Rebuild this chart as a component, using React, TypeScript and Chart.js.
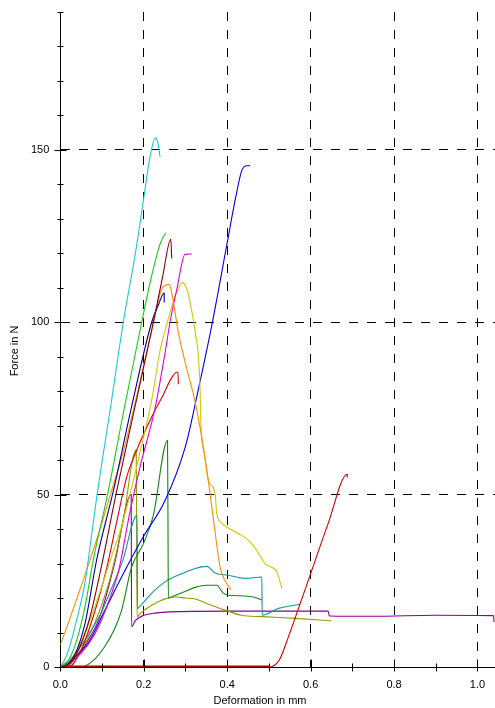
import React, { useEffect, useRef } from "react";
import { Chart, registerables } from "chart.js";

Chart.register(...registerables);

// ---- Data (deformation in mm / force in N) ----
const baselineRedX = [0, 0.5, 0.511, 0.525, 0.547, 0.575, 0.603, 0.642, 0.688, 0.688];
const baselineRedY = [0, 0, 0.3, 2, 8.8, 18.4, 28.1, 41.6, 55.9, 55];

const cyanX = [0, 0.01, 0.02, 0.04, 0.06, 0.067, 0.087, 0.12, 0.151, 0.18, 0.2, 0.215, 0.228, 0.234, 0.239];
const cyanY = [0, 2, 5, 14, 25, 31, 49, 75, 100, 120, 136, 148, 153.5, 152, 148];

const greenX = [0, 0.02, 0.04, 0.06, 0.079, 0.115, 0.15, 0.195, 0.22, 0.24, 0.253];
const greenY = [0, 2, 8, 18, 31, 51, 73, 100, 114, 123, 126];

const navyX = [0, 0.02, 0.04, 0.06, 0.087, 0.127, 0.17, 0.219, 0.235, 0.249, 0.249];
const navyY = [0, 1, 5, 13, 31, 51, 75, 100, 105, 108.5, 105.7];

const maroonX = [0, 0.02, 0.04, 0.07, 0.1, 0.135, 0.18, 0.223, 0.245, 0.265, 0.267];
const maroonY = [0, 0.5, 4, 14, 30, 51, 76, 100, 113, 124.1, 118.5];

const orangeX = [0, 0.02, 0.04, 0.06, 0.09, 0.12, 0.15, 0.18, 0.219, 0.245, 0.261, 0.268, 0.283, 0.3, 0.323, 0.34, 0.355, 0.37, 0.383, 0.395, 0.409];
const orangeY = [6.4, 13, 20, 27, 38, 50, 62, 77, 97.5, 110, 111, 108, 97, 88, 77, 66, 54, 40, 29, 25, 22.5];

const magentaX = [0, 0.02, 0.05, 0.08, 0.1, 0.119, 0.14, 0.167, 0.191, 0.227, 0.251, 0.263, 0.28, 0.299, 0.315];
const magentaY = [0, 1, 4, 9, 14, 20, 28, 45, 58, 75, 91, 100, 110, 119.7, 119.8];

const yellowX = [0, 0.03, 0.06, 0.09, 0.12, 0.145, 0.167, 0.2, 0.22, 0.239, 0.251, 0.271, 0.293, 0.305, 0.315, 0.323, 0.335, 0.337, 0.345, 0.355, 0.371, 0.375, 0.385, 0.399, 0.427, 0.451, 0.47, 0.491, 0.519, 0.523, 0.531];
const yellowY = [0, 3, 10, 20, 31, 40, 50, 67, 78, 91.8, 97.5, 106, 111.5, 109, 103.3, 97.5, 81, 70, 62, 54, 50.3, 44.5, 42, 40.6, 38.7, 36.8, 34, 30, 27.6, 26.2, 22.8];

const redX = [0, 0.02, 0.05, 0.08, 0.11, 0.135, 0.159, 0.18, 0.207, 0.227, 0.247, 0.265, 0.279, 0.282, 0.283];
const redY = [0, 0, 5, 15, 28, 42, 55, 62, 69.5, 74.5, 79, 83.5, 85.5, 85.5, 82];

const blueX = [0, 0.03, 0.067, 0.107, 0.155, 0.2, 0.25, 0.3, 0.33, 0.363, 0.4, 0.42, 0.435, 0.447, 0.455];
const blueY = [0, 2.5, 7, 16.5, 28, 38, 48, 64, 80, 99, 123, 136, 144, 145.4, 145.4];

const darkGreenX = [0, 0.05, 0.08, 0.107, 0.13, 0.147, 0.171, 0.2, 0.223, 0.257, 0.258, 0.259, 0.27, 0.3, 0.323, 0.351, 0.375, 0.39, 0.403, 0.443, 0.475, 0.483];
const darkGreenY = [0, 0, 2, 6, 11, 16.5, 29, 36, 44, 65.7, 45, 20, 20.5, 22, 23.1, 23.7, 23.7, 21.5, 20.8, 20.6, 19.9, 19.4];

const tealX = [0, 0.03, 0.06, 0.095, 0.12, 0.15, 0.184, 0.185, 0.19, 0.22, 0.251, 0.3, 0.323, 0.351, 0.371, 0.403, 0.443, 0.483, 0.484, 0.523, 0.575];
const tealY = [0, 3, 8, 15, 22, 31, 44, 17, 17.5, 21.5, 24.7, 27.5, 28.6, 29.2, 27.3, 26.6, 25.7, 26.1, 15, 17, 18.2];

const oliveX = [0, 0.03, 0.06, 0.09, 0.12, 0.15, 0.182, 0.183, 0.184, 0.191, 0.22, 0.255, 0.279, 0.3, 0.323, 0.36, 0.395, 0.435, 0.483, 0.563, 0.65];
const oliveY = [0, 2, 7, 15, 26, 42, 63, 40, 14.6, 15.5, 18, 19.9, 20.3, 20, 19.7, 18, 16.5, 15, 14.6, 14.1, 13.4];

const purpleX = [0, 0.03, 0.06, 0.095, 0.13, 0.17, 0.1705, 0.171, 0.18, 0.2, 0.23, 0.26, 0.4, 0.55, 0.642, 0.645, 0.75, 0.9, 1.038, 1.04];
const purpleY = [0, 2, 6.5, 14.6, 30, 50, 25, 11.7, 13.5, 15, 15.7, 16, 16.2, 16.2, 16.2, 14.8, 14.7, 15, 14.9, 13];

const xTickValues = [0, 0.2, 0.4, 0.6, 0.8, 1.0];
const yTickValues = [0, 50, 100, 150];

const series = [
  { name: "red 2", xs: baselineRedX, ys: baselineRedY, color: "#d40000" },
  { name: "cyan", xs: cyanX, ys: cyanY, color: "#1ccccc" },
  { name: "green", xs: greenX, ys: greenY, color: "#1ccc1c" },
  { name: "maroon", xs: maroonX, ys: maroonY, color: "#880000" },
  { name: "navy", xs: navyX, ys: navyY, color: "#00009c" },
  { name: "orange", xs: orangeX, ys: orangeY, color: "#ff8c00" },
  { name: "magenta", xs: magentaX, ys: magentaY, color: "#dd00dd" },
  { name: "yellow", xs: yellowX, ys: yellowY, color: "#cccc00" },
  { name: "red", xs: redX, ys: redY, color: "#dd0000" },
  { name: "blue", xs: blueX, ys: blueY, color: "#0000dd" },
  { name: "dark green", xs: darkGreenX, ys: darkGreenY, color: "#118811" },
  { name: "teal", xs: tealX, ys: tealY, color: "#119999" },
  { name: "olive", xs: oliveX, ys: oliveY, color: "#999900" },
  { name: "purple", xs: purpleX, ys: purpleY, color: "#8c008c" },
];

const FONT = "'Liberation Sans', Arial, sans-serif";

const decorPlugin = {
  id: "decor",
  afterDraw(chart: any) {
    const { ctx } = chart;
    const xs = chart.scales.x;
    const ys = chart.scales.y;
    ctx.save();
    ctx.strokeStyle = "#000";
    ctx.lineWidth = 1;
    const axX = Math.round(xs.getPixelForValue(0)) + 0.5;
    for (let v = 0; v <= 190; v += 10) {
      const py = Math.round(ys.getPixelForValue(v)) + 0.5;
      const major = v % 50 === 0;
      ctx.beginPath();
      ctx.moveTo(axX - (major ? 6 : 3), py);
      ctx.lineTo(axX + (major ? 6 : 3), py);
      ctx.stroke();
    }
    const axY = Math.round(ys.getPixelForValue(0)) + 0.5;
    for (let i = 0; i <= 10; i++) {
      const px = Math.round(xs.getPixelForValue(i / 10)) + 0.5;
      const major = i % 2 === 0;
      ctx.beginPath();
      ctx.moveTo(px, axY - (major ? 8 : 4));
      ctx.lineTo(px, axY + 4);
      ctx.stroke();
    }
    ctx.fillStyle = "#000";
    ctx.font = `11px ${FONT}`;
    ctx.textAlign = "center";
    ctx.textBaseline = "middle";
    ctx.fillText("Deformation in mm", 260, 701);
    ctx.translate(15, 351);
    ctx.rotate(-Math.PI / 2);
    ctx.fillText("Force in N", 0, 0);
    ctx.restore();
  },
};

export default function App() {
  const ref = useRef<HTMLCanvasElement | null>(null);
  useEffect(() => {
    if (!ref.current) return;
    const gridColor = (c: any) => (c.tick && c.tick.value === 0 ? "rgba(0,0,0,0)" : "#000");
    const chart = new Chart(ref.current, {
      type: "line",
      data: {
        datasets: series.map((s) => ({
          label: s.name,
          data: s.xs.map((x, i) => ({ x, y: s.ys[i] })),
          borderColor: s.color,
          borderWidth: 1.1,
          pointRadius: 0,
          fill: false,
          cubicInterpolationMode: "monotone",
          segment:
            s.name === "red 2"
              ? {
                  borderWidth: (c: any) => (c.p0.parsed.y === 0 && c.p1.parsed.y === 0 ? 3 : 1.1),
                  borderColor: (c: any) => (c.p0.parsed.y === 0 && c.p1.parsed.y === 0 ? "#b00000" : "#d40000"),
                }
              : undefined,
        })),
      },
      options: {
        responsive: false,
        animation: false,
        devicePixelRatio: 1,
        layout: { padding: { top: 12, left: 0, right: 0, bottom: 0 } },
        plugins: { legend: { display: false }, tooltip: { enabled: false }, title: { display: false } },
        scales: {
          x: {
            type: "linear",
            min: 0,
            max: 1.042,
            afterFit: (s: any) => {
              s.height = 41;
              s.paddingLeft = 0;
              s.paddingRight = 0;
            },
            afterBuildTicks: (s: any) => {
              s.ticks = xTickValues.map((v) => ({ value: v }));
            },
            ticks: {
              padding: 11,
              color: "#000",
              font: { family: FONT, size: 11 },
              callback: (v: any) => Number(v).toFixed(1),
              maxRotation: 0,
              autoSkip: false,
            },
            grid: { color: gridColor, lineWidth: 1, drawTicks: false },
            border: { display: true, color: "#000", width: 1, dash: [9, 9] },
          },
          y: {
            type: "linear",
            min: 0,
            max: 190,
            afterFit: (s: any) => {
              s.width = 60.3;
              s.paddingTop = 0;
              s.paddingBottom = 0;
            },
            afterBuildTicks: (s: any) => {
              s.ticks = yTickValues.map((v) => ({ value: v }));
            },
            ticks: {
              padding: 11,
              color: "#000",
              font: { family: FONT, size: 11 },
              autoSkip: false,
            },
            grid: { color: gridColor, lineWidth: 1, drawTicks: false },
            border: { display: true, color: "#000", width: 1, dash: [9, 9] },
          },
        },
      },
      plugins: [decorPlugin],
    });
    return () => chart.destroy();
  }, []);
  return (
    <div style={{ position: "absolute", left: 0, top: 0, width: 495, height: 708, background: "#fff" }}>
      <canvas ref={ref} width={495} height={708} />
    </div>
  );
}
